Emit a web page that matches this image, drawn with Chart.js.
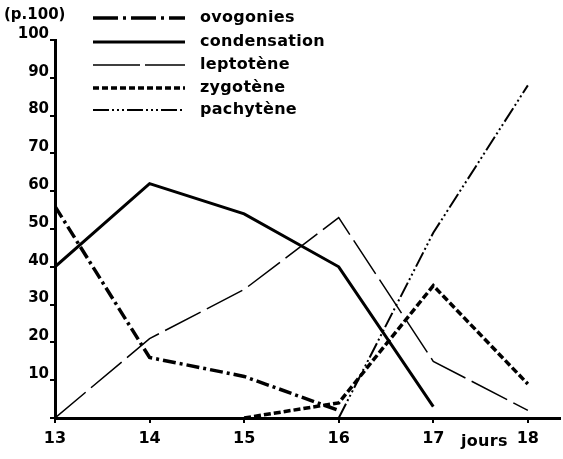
<!DOCTYPE html>
<html>
<head>
<meta charset="utf-8">
<script src="https://cdn.jsdelivr.net/npm/chart.js@4.4.1/dist/chart.umd.min.js"></script>
<style>
html,body{margin:0;padding:0;background:#fff;}
canvas{display:block;}
</style>
</head>
<body>
<canvas id="c" width="563" height="459"></canvas>
<script>
const days = [13, 14, 15, 16, 17, 18];
const ovogonies    = [56, 16, 11, 2, null, null];
const condensation = [40, 62, 54, 40, 3, null];
const leptotene    = [0, 21, 34, 53, 15, 2];
const zygotene     = [null, null, 0, 4, 35, 9];
const pachytene    = [null, null, null, 0, 49, 88];
const seriesNames = ['ovogonies', 'condensation', 'leptotène', 'zygotène', 'pachytène'];
const yTicks = [10, 20, 30, 40, 50, 60, 70, 80, 90, 100];
const yUnit = '(p.100)';
const xUnit = 'jours';

const FONT = 'DejaVu Sans';
const pts = arr => days.map((d, i) => ({x: d, y: arr[i]}));

const styles = [
  {borderWidth: 3.5, borderDash: [13, 4, 3, 4]},
  {borderWidth: 3, borderDash: []},
  {borderWidth: 1.5, borderDash: [40, 7]},
  {borderWidth: 3.5, borderDash: [7, 3]},
  {borderWidth: 2, borderDash: [16, 3, 2, 3, 2, 3, 2, 3]}
];
const allSeries = [ovogonies, condensation, leptotene, zygotene, pachytene];

const datasets = allSeries.map((s, i) => Object.assign({
  label: seriesNames[i],
  data: pts(s),
  borderColor: '#000',
  backgroundColor: '#000',
  pointRadius: 0,
  tension: 0,
  fill: false,
  spanGaps: false,
  borderCapStyle: 'butt',
  borderJoinStyle: 'miter'
}, styles[i]));

const legendDash = [
  [25, 5, 3, 5],
  [],
  [47, 5],
  [6, 3],
  [16, 3, 2, 3, 2, 3, 2, 3]
];

const annotPlugin = {
  id: 'annot',
  afterDraw(chart) {
    const ctx = chart.ctx;
    ctx.save();
    ctx.fillStyle = '#000';
    ctx.strokeStyle = '#000';
    const rows = [18, 42, 65, 88, 110];
    chart.data.datasets.forEach((ds, i) => {
      const y = rows[i];
      ctx.beginPath();
      ctx.lineWidth = ds.borderWidth;
      ctx.setLineDash(legendDash[i]);
      ctx.lineCap = 'butt';
      ctx.moveTo(93, y);
      ctx.lineTo(185, y);
      ctx.stroke();
      ctx.setLineDash([]);
      ctx.font = 'bold 16px "' + FONT + '"';
      try { ctx.letterSpacing = '0.3px'; } catch (e) {}
      ctx.textBaseline = 'middle';
      ctx.textAlign = 'left';
      ctx.fillText(ds.label, 200, y);
    });
    ctx.font = 'bold 15px "' + FONT + '"';
    try { ctx.letterSpacing = '0px'; } catch (e) {}
    ctx.textBaseline = 'middle';
    ctx.fillText(yUnit, 4, 15);
    ctx.font = 'bold 16px "' + FONT + '"';
    try { ctx.letterSpacing = '0.3px'; } catch (e) {}
    ctx.fillText(xUnit, 461, 442);
    ctx.restore();
  }
};

new Chart(document.getElementById('c'), {
  type: 'line',
  data: {datasets},
  plugins: [annotPlugin],
  options: {
    responsive: false,
    animation: false,
    devicePixelRatio: 1,
    layout: {padding: {left: 0, top: 40, right: 3, bottom: 0}},
    plugins: {legend: {display: false}, tooltip: {enabled: false}},
    scales: {
      x: {
        type: 'linear',
        min: 13,
        max: 18.34,
        afterBuildTicks(scale) {
          scale.ticks = days.map(v => ({value: v}));
        },
        afterFit(scale) { scale.height = 41; },
        border: {display: true, color: '#000', width: 3},
        grid: {drawOnChartArea: false, drawTicks: true, tickLength: 5, color: '#000', lineWidth: 2},
        ticks: {
          color: '#000',
          padding: 6,
          maxRotation: 0,
          autoSkip: false,
          font: {family: FONT, size: 16, weight: 'bold'},
          callback: v => String(v)
        }
      },
      y: {
        type: 'linear',
        min: 0,
        max: 100,
        afterBuildTicks(scale) {
          scale.ticks = [0].concat(yTicks).map(v => ({value: v}));
        },
        afterFit(scale) { scale.width = 55; },
        border: {display: true, color: '#000', width: 3},
        grid: {drawOnChartArea: false, drawTicks: true, tickLength: 5, color: '#000', lineWidth: 2},
        ticks: {
          color: '#000',
          padding: 1,
          labelOffset: -6,
          autoSkip: false,
          font: {family: FONT, size: 15, weight: 'bold'},
          callback: v => (v === 0 ? '' : String(v))
        }
      }
    }
  }
});
</script>
</body>
</html>
